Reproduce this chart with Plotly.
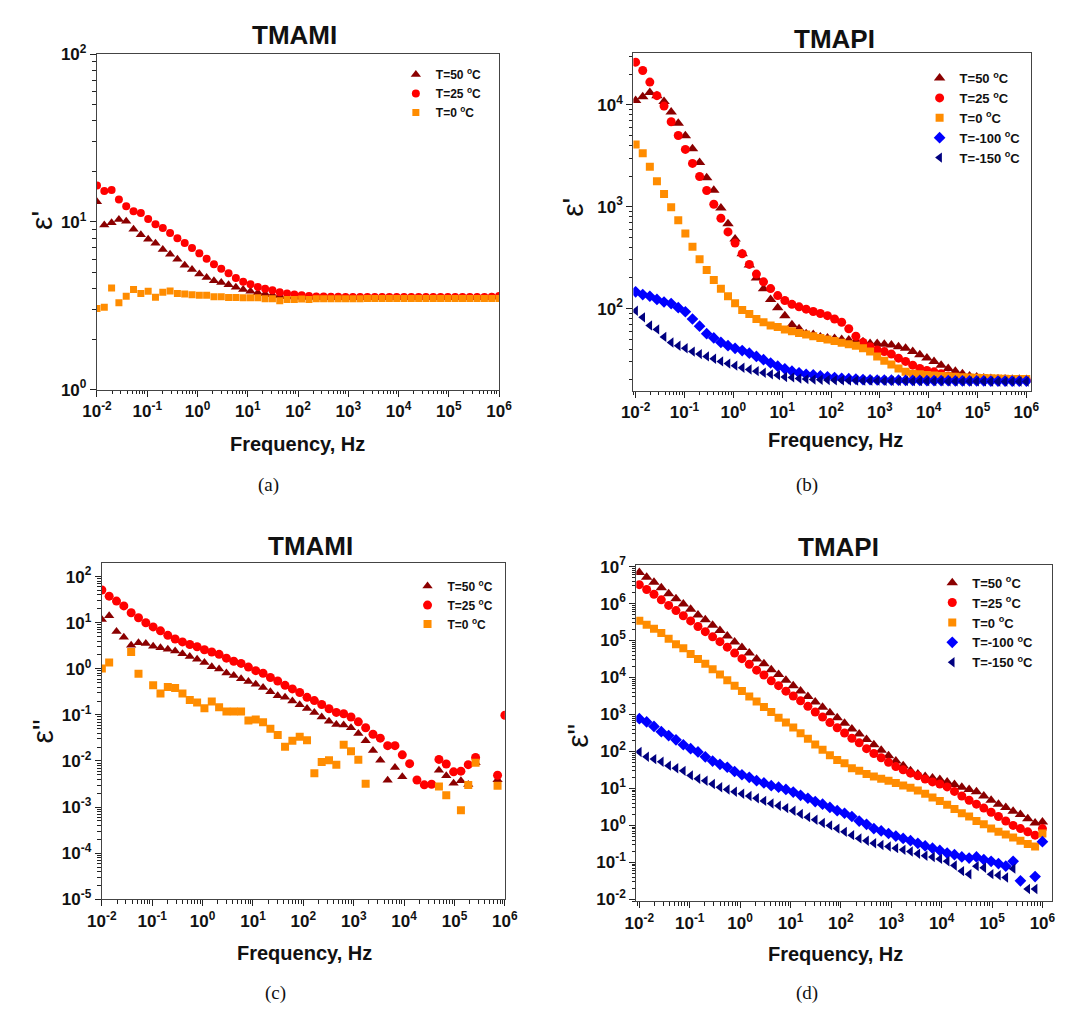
import plotly.graph_objects as go
import math

# page is 1073x1016; the html body keeps an 8px margin, so the figure is 16px smaller
OFF = 8
W, H = 1073 - 2 * OFF, 1016 - 2 * OFF

# ---------------- data ----------------
FREQ = [0.01, 0.01397, 0.01953, 0.02730, 0.03816, 0.05337, 0.07460, 0.1043, 0.1458, 0.2038,
        0.2848, 0.3981, 0.5565, 0.7779, 1.087, 1.520, 2.125, 2.970, 4.151, 5.802,
        8.111, 11.34, 15.85, 22.15, 30.97, 43.29, 60.51, 84.58, 118.2, 165.3,
        231.0, 322.9, 451.4, 631.0, 882.0, 1233, 1723, 2409, 3367, 4707,
        6580, 9197, 12860, 17970, 25120, 35110, 49080, 68610, 95910, 134100,
        187400, 262000, 366200, 511900, 715500, 1000000]

LABELS = ["T=50 <sup>o</sup>C", "T=25 <sup>o</sup>C", "T=0 <sup>o</sup>C",
          "T=-100 <sup>o</sup>C", "T=-150 <sup>o</sup>C"]

# (a) TMAMI eps'
A_T50 = [13.2, 9.6, 9.9, 10.35, 10.1, 9.04, 8.4, 7.9, 7.46, 6.86, 6.41, 5.99, 5.52, 5.21, 4.90,
         4.66, 4.46, 4.36, 4.22, 4.08, 3.95, 3.86, 3.78, 3.73, 3.68, 3.63, 3.58,
         3.57, 3.56, 3.56, 3.56, 3.55, 3.55, 3.55, 3.55, 3.55, 3.55, 3.55, 3.55, 3.55, 3.55,
         3.55, 3.55, 3.55, 3.55, 3.55, 3.55, 3.55, 3.55, 3.55, 3.55, 3.55, 3.55, 3.55, 3.56, 3.60]
A_T25 = [16.5, 15.3, 15.5, 13.6, 12.4, 11.6, 11.3, 10.4, 9.7, 9.2, 8.6, 8.0, 7.5, 7.0, 6.5,
         6.04, 5.6, 5.26, 4.94, 4.64, 4.40, 4.25, 4.10, 4.0, 3.92, 3.81, 3.74, 3.70, 3.65,
         3.62, 3.60, 3.59, 3.58, 3.58, 3.57, 3.57, 3.57, 3.57, 3.57, 3.57, 3.57, 3.57, 3.57,
         3.57, 3.57, 3.57, 3.57, 3.57, 3.57, 3.57, 3.57, 3.57, 3.57, 3.57, 3.58, 3.62]
A_T0 = [3.05, 3.1, 4.04, 3.30, 3.61, 3.95, 3.74, 3.86, 3.56, 3.81, 3.88, 3.74, 3.72, 3.68,
        3.66, 3.65, 3.58, 3.58, 3.55, 3.55, 3.53, 3.53, 3.53, 3.48, 3.48, 3.39, 3.45, 3.45,
        3.47, 3.45, 3.48, 3.48, 3.48, 3.49, 3.49, 3.49, 3.49, 3.50, 3.50, 3.50, 3.50, 3.50,
        3.50, 3.50, 3.50, 3.50, 3.50, 3.50, 3.50, 3.50, 3.50, 3.50, 3.50, 3.50, 3.50, 3.50]

# (b) TMAPI eps'
B_T50 = [11000, 12000, 13200, 12300, 10800, 8510, 6580, 4970, 3700, 2720, 1920, 1450, 968, 680,
         481, 345, 267, 199, 156, 123, 102, 85, 69.2, 63.4, 56.7, 55.5, 52.7, 51.5, 50.8, 49.7,
         49, 47.9, 47.2, 45.5, 45.5, 44.5, 43.8, 42.2, 40.7, 37.8, 35.2, 32.7, 30.3, 27.8, 25.8,
         24.3, 22.9, 21.8, 21.3, 20.8, 20.6, 20.4, 20.3, 20.2, 20.2, 20.1]
B_T25 = [26200, 21700, 16700, 12300, 9710, 6820, 5000, 3650, 2660, 1980, 1440, 1056, 770, 565,
         440, 345, 271, 218, 183, 157, 134, 120, 110, 104, 98.6, 93.6, 89.5, 85.1, 79.0, 73.4,
         63.4, 53.5, 46.5, 42.2, 39.2, 37.8, 35.7, 32.6, 30.3, 27.8, 25.8, 24.7, 23.9, 22.9,
         21.8, 21.3, 20.7, 20.5, 20.4, 20.3, 20.2, 20.2, 20.1, 20.1, 20.0, 20.0]
B_T0 = [4070, 3340, 2470, 1780, 1330, 988, 736, 544, 405, 304, 239, 191, 156, 132, 113, 97,
        88.3, 79, 73.4, 68.2, 65.8, 62.4, 59.7, 57.5, 55.5, 53.5, 51.5, 49.7, 47.9, 46.1, 44.5,
        43.2, 40.7, 37.8, 33.9, 30.8, 28.2, 25.8, 23.9, 22.9, 22.6, 22.3, 22.0, 21.8, 21.6,
        21.4, 21.2, 21.0, 20.9, 20.8, 20.7, 20.6, 20.5, 20.4, 20.3, 20.3]
B_TM100 = [146, 137, 132, 123, 116, 112, 102, 93, 79, 67.2, 56.7, 51.5, 46.5, 43.2, 40.7, 38.7,
           36.5, 33.9, 31.5, 29.2, 27.2, 25.6, 24.3, 23.4, 22.6, 22.3, 21.8, 21.4, 21.0, 20.7,
           20.5, 20.3, 20.1, 20.0, 19.9, 19.9, 19.8, 19.8, 19.7, 19.7, 19.7, 19.6, 19.6, 19.6,
           19.6, 19.5, 19.5, 19.5, 19.5, 19.5, 19.4, 19.4, 19.4, 19.4, 19.4, 19.4]
B_TM150 = [95, 82, 68.2, 62.4, 52.7, 46.5, 43.2, 40.7, 37.8, 35.7, 33.9, 32.2, 30.3, 28.8, 27.5,
           26.2, 25.2, 24.3, 23.4, 22.6, 22.2, 21.3, 21.1, 20.6, 20.3, 20.1, 20.0, 19.9, 19.8,
           19.8, 19.7, 19.7, 19.6, 19.6, 19.6, 19.5, 19.5, 19.5, 19.5, 19.4, 19.4, 19.4, 19.4,
           19.4, 19.3, 19.3, 19.3, 19.3, 19.3, 19.3, 19.2, 19.2, 19.2, 19.2, 19.2, 19.2]

# (c) TMAMI eps''
C_T50 = [11.8, 14.1, 6.46, 4.82, 3.26, 3.65, 3.53, 3.10, 2.86, 2.64, 2.43, 2.13, 1.84, 1.62,
         1.37, 1.11, 0.99, 0.814, 0.715, 0.607, 0.533, 0.460, 0.391, 0.316, 0.260, 0.240, 0.200,
         0.165, 0.138, 0.113, 0.090, 0.073, 0.062, 0.060, 0.0526, 0.0392, 0.0274, 0.0168,
         0.0103, 0.00381, 0.0072, 0.00456, None, None, None, None, 0.0063, 0.0048, 0.0033,
         0.0037, 0.0031, 0.0092, None, None, 0.0039, None]
C_T25 = [51.3, 37.6, 29.4, 23.1, 16.4, 12.8, 10.0, 8.11, 6.67, 5.31, 4.44, 3.83, 3.37, 3.0,
         2.59, 2.31, 2.06, 1.70, 1.46, 1.31, 1.09, 0.912, 0.801, 0.648, 0.542, 0.438, 0.366,
         0.306, 0.240, 0.204, 0.168, 0.136, 0.113, 0.106, 0.090, 0.0705, 0.0526, 0.0380,
         0.0312, 0.0215, 0.0215, 0.0136, 0.00875, 0.00387, 0.00303, 0.00313, 0.0108, 0.0086,
         0.0058, 0.0060, 0.0083, 0.0119, None, None, 0.0049, 0.098]
C_T0 = [1.02, 1.37, None, None, 2.31, 0.776, None, 0.438, 0.292, 0.404, 0.385, 0.292, 0.210,
        0.185, 0.140, 0.194, 0.147, 0.119, 0.119, 0.119, 0.0754, 0.079, 0.0694, 0.050, 0.0367,
        0.0204, 0.0274, 0.0334, 0.0283, 0.0054, 0.0095, 0.0103, 0.0083, 0.0225, 0.0163, 0.0106,
        0.0032, None, None, None, None, None, None, None, None, None, 0.0028, 0.0018, None,
        0.00085, 0.0030, 0.0092, None, None, 0.0029, None]

# (d) TMAPI eps''
D_T50 = [6.93e6, 5.12e6, 3.77e6, 2.67e6, 1.85e6, 1.36e6, 9.66e5, 6.98e5, 4.94e5, 3.64e5,
         2.58e5, 1.86e5, 1.32e5, 9.14e4, 6.47e4, 4.58e4, 3.18e4, 2.34e4, 1.63e4, 1.20e4,
         8.47e3, 6.00e3, 4.34e3, 3.07e3, 2.17e3, 1.57e3, 1.11e3, 819, 579, 403,
         297, 210, 151, 107, 76.0, 55.0, 41.3, 29.9, 24.4, 21.1,
         19.1, 17.3, 15.0, 12.7, 10.8, 9.38, 8.15, 6.25, 4.80, 3.76,
         3.07, 2.40, 1.96, 1.51, 1.16, 1.23]
D_T25 = [3.24e6, 2.40e6, 1.78e6, 1.26e6, 8.91e5, 6.46e5, 4.68e5, 3.39e5, 2.40e5, 1.74e5,
         1.26e5, 9.33e4, 6.61e4, 4.57e4, 3.24e4, 2.29e4, 1.58e4, 1.17e4, 8.13e3, 6.03e3,
         4.27e3, 3.16e3, 2.34e3, 1.66e3, 1.17e3, 851, 603, 437, 316, 228,
         171, 119, 87.7, 67.3, 50.7, 38.9, 31.8, 25.9, 22.0, 18.0,
         15.0, 13.2, 11.0, 8.3, 6.25, 4.80, 3.76, 2.94, 2.26, 1.74,
         1.31, 1.00, 0.82, 0.67, 0.545, 0.82]
D_T0 = [3.43e5, 2.69e5, 2.10e5, 1.61e5, 1.12e5, 7.93e4, 6.21e4, 4.31e4, 3.18e4, 2.34e4,
        1.66e4, 1.20e4, 8.47e3, 6.00e3, 4.34e3, 3.07e3, 2.26e3, 1.60e3, 1.16e3, 819,
        604, 446, 309, 219, 155, 112, 79.3, 58.3, 47.8, 35.2,
        29.9, 24.4, 21.1, 18.3, 16.2, 14.1, 12.0, 10.4, 8.83, 7.19,
        5.65, 4.60, 3.61, 2.77, 2.13, 1.74, 1.31, 1.07, 0.818, 0.668,
        0.568, 0.473, 0.385, 0.315, 0.268, 0.604]
D_TM100 = [771, 630, 474, 342, 268, 206, 152, 119, 97, 71.6,
           55, 44.9, 37.4, 28.7, 23.4, 19.9, 16.2, 14.1, 11.9, 10.8,
           9.38, 7.96, 6.50, 5.42, 4.42, 3.76, 3.06, 2.50, 2.13, 1.74,
           1.31, 1.07, 0.818, 0.71, 0.604, 0.513, 0.445, 0.385, 0.328, 0.279,
           0.242, 0.210, 0.178, 0.161, 0.140, 0.131, 0.140, 0.119, 0.107, 0.093,
           0.079, 0.107, 0.0317, None, 0.0413, 0.363]
D_TM150 = [97, 71.6, 62.1, 52.8, 41.3, 35.2, 29.9, 22.5, 18.3, 16.2,
           13.2, 10.8, 9.38, 8.13, 7.19, 6.24, 5.42, 4.60, 3.91, 3.39,
           2.94, 2.50, 2.04, 1.67, 1.42, 1.16, 1.00, 0.818, 0.668, 0.545,
           0.445, 0.385, 0.328, 0.296, 0.268, 0.242, 0.218, 0.197, 0.171, 0.151,
           0.140, 0.124, 0.107, 0.082, 0.058, 0.0475, 0.079, 0.0714, 0.048, 0.0447,
           0.039, 0.0676, None, 0.019, 0.019, None]

# ---------------- styling ----------------
STYLES = [("triangle-up", "#8B0000"), ("circle", "#FF0000"), ("square", "#FF8C00"),
          ("diamond", "#0000FF"), ("triangle-left", "#000080")]

FONT = "Liberation Sans, Arial, sans-serif"

# panel boxes in page pixels: left, right, top, bottom ; axis ranges (log10)
PANELS = [
    dict(box=(84, 497, 43, 386), xr=(-2, 6), yr=(0, 2),
         series=[A_T50, A_T25, A_T0], sizes=[9, 8, 7],
         leg=(391, 49, 12), title=("TMAMI", 287, 23), xt=(290, 442),
         yt=("ε'", 27, 213), cap=("(a)", 260, 483)),
    dict(box=(635, 1043, 42, 387), xr=(-2.046, 6.086), yr=(1.194, 4.506),
         series=[B_T50, B_T25, B_T0, B_TM100, B_TM150], sizes=[10, 9, 8, 9, 9],
         leg=(929, 52, 13), title=("TMAPI", 842, 27), xt=(843, 437),
         yt=("ε'", 573, 200), cap=("(b)", 813, 483)),
    dict(box=(89, 503, 563, 907), xr=(-2, 6), yr=(-5, 2.3),
         series=[C_T50, C_T25, C_T0], sizes=[9, 9, 8],
         leg=(403, 572, 12), title=("TMAMI", 303, 546), xt=(297, 962),
         yt=('ε"', 28, 735), cap=("(c)", 267, 1003)),
    dict(box=(638, 1065, 565, 909), xr=(-2.06, 6.19), yr=(-2.05, 7.05),
         series=[D_T50, D_T25, D_T0, D_TM100, D_TM150], sizes=[10, 9, 8, 9, 9],
         leg=(942, 568, 13), title=("TMAPI", 846, 547), xt=(843, 963),
         yt=('ε"', 578, 740), cap=("(d)", 813, 1003)),
]


def px_x(p):
    return (p - OFF) / W


def px_y(p):
    return 1 - (p - OFF) / H


def log_axis(rng, domain, anchor):
    lo, hi = rng
    majors = [e for e in range(math.floor(lo), math.ceil(hi) + 1) if lo - 1e-9 <= e <= hi + 1e-9]
    minors = []
    for e in range(math.floor(lo) - 1, math.ceil(hi) + 1):
        for m in range(2, 10):
            v = math.log10(m * 10 ** e)
            if lo <= v <= hi:
                minors.append(m * 10 ** e)
    return dict(
        type="log", range=[lo, hi], domain=domain, anchor=anchor,
        tickmode="array", tickvals=[10 ** e for e in majors],
        ticktext=["10<sup>%d</sup>" % e for e in majors],
        ticks="outside", ticklen=6, tickwidth=1.3, tickcolor="#222",
        minor=dict(tickmode="array", tickvals=minors, ticks="outside", ticklen=3.5,
                   tickwidth=1, tickcolor="#222", showgrid=False),
        showline=True, linecolor="#444", linewidth=1.3, mirror=True,
        showgrid=False, zeroline=False,
        tickfont=dict(family=FONT, size=17, color="#111", weight="bold"),
    )


fig = go.Figure()
layout = dict(width=W, height=H, margin=dict(l=0, r=0, t=0, b=0),
              paper_bgcolor="white", plot_bgcolor="white", showlegend=True)
annotations = []

for i, P in enumerate(PANELS):
    n = "" if i == 0 else str(i + 1)
    xa, ya = "x" + n, "y" + n
    legname = "legend" if i == 0 else "legend" + str(i + 1)
    l, r, t, b = P["box"]
    layout["xaxis" + n] = log_axis(P["xr"], [px_x(l), px_x(r)], ya)
    layout["yaxis" + n] = log_axis(P["yr"], [px_y(b), px_y(t)], xa)

    for j, vals in enumerate(P["series"]):
        sym, col = STYLES[j]
        fig.add_trace(go.Scatter(
            x=FREQ, y=vals, mode="markers", name=LABELS[j],
            marker=dict(symbol=sym, size=P["sizes"][j], color=col, line=dict(width=0)),
            xaxis=xa, yaxis=ya, legend=legname, showlegend=True))

    lx, ly, lfs = P["leg"]
    layout[legname] = dict(x=px_x(lx), y=px_y(ly), xanchor="left", yanchor="top",
                           bgcolor="rgba(0,0,0,0)", borderwidth=0, itemwidth=30,
                           tracegroupgap=0,
                           font=dict(family=FONT, size=lfs, color="#111", weight="bold"))

    tt, tx, ty = P["title"]
    annotations.append(dict(text="<b>%s</b>" % tt, x=px_x(tx), y=px_y(ty), xref="paper",
                            yref="paper", showarrow=False, xanchor="center", yanchor="middle",
                            font=dict(family=FONT, size=26, color="#111")))
    xx, xy = P["xt"]
    annotations.append(dict(text="<b>Frequency, Hz</b>", x=px_x(xx), y=px_y(xy), xref="paper",
                            yref="paper", showarrow=False, xanchor="center", yanchor="middle",
                            font=dict(family=FONT, size=20, color="#111")))
    yt, yx, yy = P["yt"]
    annotations.append(dict(text=yt, x=px_x(yx), y=px_y(yy), xref="paper", yref="paper",
                            showarrow=False, xanchor="center", yanchor="middle", textangle=-90,
                            font=dict(family=FONT, size=30, color="#111")))
    ct, cx, cy = P["cap"]
    annotations.append(dict(text=ct, x=px_x(cx), y=px_y(cy), xref="paper", yref="paper",
                            showarrow=False, xanchor="center", yanchor="middle",
                            font=dict(family="Liberation Serif, Times New Roman, serif",
                                      size=19, color="#111")))

layout["annotations"] = annotations
fig.update_layout(**layout)
fig.write_html("out.html")
